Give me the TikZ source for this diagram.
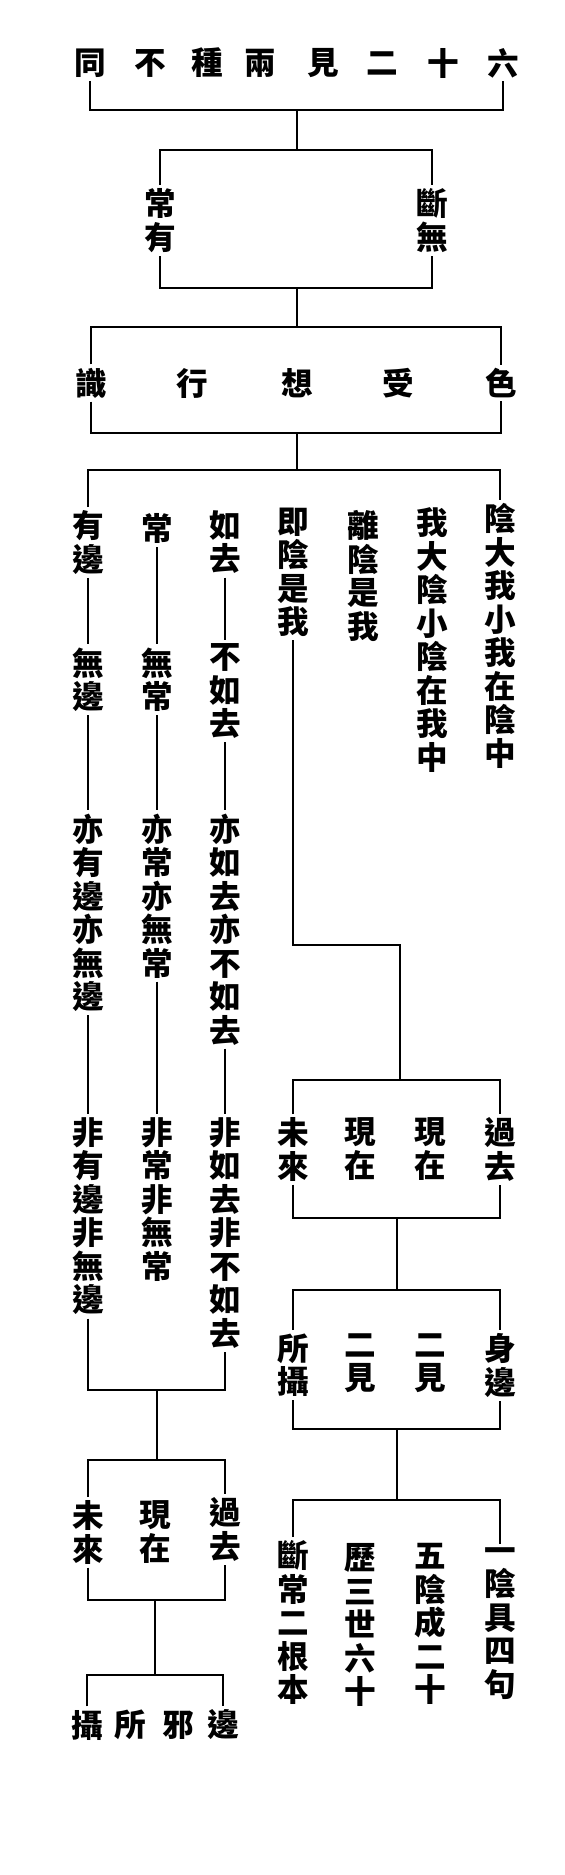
\documentclass[tikz,border=0pt]{standalone}
\usepackage{fontspec}
\newfontfamily\cjk{Noto Sans CJK TC}
\tikzset{
  ch/.style={font=\cjk\bfseries\fontsize{15.8}{16.75}\selectfont, inner sep=1.6pt, align=center},
  vt/.style={ch, anchor=north},
  ln/.style={line width=1.1pt},
}
\begin{document}
\begin{tikzpicture}[x=0.5pt,y=-0.5pt]
\useasboundingbox (0,0) rectangle (565,1875);
% title
\node[ch] (t1) at (503,63) {六};
\node[ch] (t2) at (443,63) {十};
\node[ch] (t3) at (382,63) {二};
\node[ch] (t4) at (323,63) {見};
\node[ch] (t5) at (260,63) {兩};
\node[ch] (t6) at (207,63) {種};
\node[ch] (t7) at (150,63) {不};
\node[ch] (t8) at (90,63) {同};
\coordinate (j1) at (297,110);
\coordinate (j2) at (297,150);
\draw[ln] (t8) |- (j1) -| (t1);
\draw[ln] (j1) -- (j2);
% box 1
\node[vt] (n1) at (160,185) {常\\有};
\node[vt] (n2) at (432,185) {斷\\無};
\coordinate (j3) at (297,288);
\coordinate (j4) at (297,327);
\draw[ln] (n1) |- (j2) -| (n2);
\draw[ln] (n1) |- (j3) -| (n2);
\draw[ln] (j3) -- (j4);
% box 2
\node[ch] (s1) at (501,383) {色};
\node[ch] (s2) at (398,383) {受};
\node[ch] (s3) at (297,383) {想};
\node[ch] (s4) at (192,383) {行};
\node[ch] (s5) at (91,383) {識};
\coordinate (j5) at (297,433);
\coordinate (j6) at (297,470);
\draw[ln] (s5) |- (j4) -| (s1);
\draw[ln] (s5) |- (j5) -| (s1);
\draw[ln] (j5) -- (j6);
% columns
\node[vt] (a1) at (500,500) {陰\\大\\我\\小\\我\\在\\陰\\中};
\node[vt] (b1) at (432,504) {我\\大\\陰\\小\\陰\\在\\我\\中};
\node[vt] (c1) at (363,507) {離\\陰\\是\\我};
\node[vt] (d1) at (293,504) {即\\陰\\是\\我};
\node[vt] (e1) at (225,507) {如\\去};
\node[vt] (e2) at (225,640) {不\\如\\去};
\node[vt] (e3) at (225,810) {亦\\如\\去\\亦\\不\\如\\去};
\node[vt] (e4) at (225,1114) {非\\如\\去\\非\\不\\如\\去};
\node[vt] (f1) at (157,510) {常};
\node[vt] (f2) at (157,644) {無\\常};
\node[vt] (f3) at (157,810) {亦\\常\\亦\\無\\常};
\node[vt] (f4) at (157,1114) {非\\常\\非\\無\\常};
\node[vt] (g1) at (88,507) {有\\邊};
\node[vt] (g2) at (88,644) {無\\邊};
\node[vt] (g3) at (88,810) {亦\\有\\邊\\亦\\無\\邊};
\node[vt] (g4) at (88,1114) {非\\有\\邊\\非\\無\\邊};
\draw[ln] (g1) |- (j6) -| (a1);
\draw[ln] (e1) -- (e2) -- (e3) -- (e4);
\draw[ln] (f1) -- (f2) -- (f3) -- (f4);
\draw[ln] (g1) -- (g2) -- (g3) -- (g4);
% left lower part
\coordinate (k1) at (157,1390);
\coordinate (k2) at (157,1460);
\draw[ln] (g4) |- (k1) -| (e4);
\draw[ln] (k1) -- (k2);
\node[vt] (h1) at (88,1497) {未\\來};
\node[vt] (h2) at (155,1497) {現\\在};
\node[vt] (h3) at (225,1494) {過\\去};
\coordinate (k3) at (155,1600);
\coordinate (k4) at (155,1675);
\draw[ln] (h1) |- (k2) -| (h3);
\draw[ln] (h1) |- (k3) -| (h3);
\draw[ln] (k3) -- (k4);
\node[ch] (q1) at (223,1725) {邊};
\node[ch] (q2) at (178,1725) {邪};
\node[ch] (q3) at (130,1725) {所};
\node[ch] (q4) at (87,1725) {攝};
\draw[ln] (q4) |- (k4) -| (q1);
% right lower part
\coordinate (m1) at (293,945);
\coordinate (m2) at (400,945);
\coordinate (m3) at (400,1080);
\draw[ln] (d1) -- (m1) -- (m2) -- (m3);
\node[vt] (p1) at (500,1114) {過\\去};
\node[vt] (p2) at (430,1114) {現\\在};
\node[vt] (p3) at (360,1114) {現\\在};
\node[vt] (p4) at (293,1114) {未\\來};
\coordinate (m4) at (397,1218);
\coordinate (m5) at (397,1290);
\draw[ln] (p4) |- (m3) -| (p1);
\draw[ln] (p4) |- (m4) -| (p1);
\draw[ln] (m4) -- (m5);
\node[vt] (r1) at (500,1330) {身\\邊};
\node[vt] (r2) at (430,1330) {二\\見};
\node[vt] (r3) at (360,1330) {二\\見};
\node[vt] (r4) at (293,1330) {所\\攝};
\coordinate (m6) at (397,1429);
\coordinate (m7) at (397,1500);
\draw[ln] (r4) |- (m5) -| (r1);
\draw[ln] (r4) |- (m6) -| (r1);
\draw[ln] (m6) -- (m7);
\node[vt] (u1) at (500,1544) {一\\陰\\具\\四\\句};
\node[vt] (u2) at (430,1540) {五\\陰\\成\\二\\十};
\node[vt] (u3) at (360,1540) {歷\\三\\世\\六\\十};
\node[vt] (u4) at (293,1537) {斷\\常\\二\\根\\本};
\draw[ln] (u4) |- (m7) -| (u1);
\end{tikzpicture}
\end{document}
